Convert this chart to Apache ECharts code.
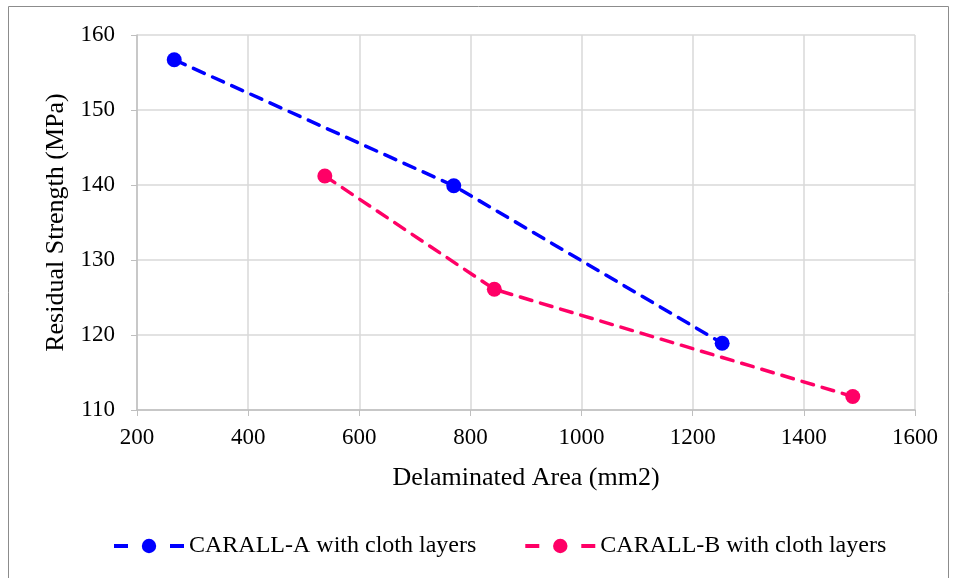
<!DOCTYPE html>
<html>
<head>
<meta charset="utf-8">
<script src="https://cdn.jsdelivr.net/npm/echarts@6/dist/echarts.min.js"></script>
<style>
  html, body { margin: 0; padding: 0; background: #fff; }
  #chart { width: 959px; height: 578px; }
</style>
</head>
<body>
<div id="chart"></div>
<script>
// Delaminated area (mm2) vs residual strength (MPa)
const seriesNames = ['CARALL-A with cloth layers', 'CARALL-B with cloth layers'];
const areaA = [267, 770, 1253];
const strengthA = [156.7, 139.9, 118.9];
const areaB = [538, 843, 1488];
const strengthB = [141.2, 126.1, 111.8];
const xTicks = [200, 400, 600, 800, 1000, 1200, 1400, 1600];
const yTicks = [110, 120, 130, 140, 150, 160];

const font = '"Liberation Serif", "Times New Roman", serif';
const colors = ['#0000FF', '#FF0066'];

function pairs(xs, ys) { return xs.map((x, i) => [x, ys[i]]); }

function makeSeries(name, data, color) {
  return {
    name: name,
    type: 'line',
    data: data,
    symbol: 'circle',
    symbolSize: 15,
    itemStyle: { color: color },
    lineStyle: { color: color, width: 3.5, type: [12, 9], cap: 'round' },
    emphasis: { disabled: true },
    animation: false
  };
}

const chart = echarts.init(document.getElementById('chart'), null, { renderer: 'canvas' });
chart.setOption({
  backgroundColor: '#fff',
  animation: false,
  graphic: [{
    type: 'rect',
    shape: { x: 8.5, y: 6.5, width: 940, height: 600 },
    style: { fill: 'none', stroke: '#8c8c8c', lineWidth: 1 },
    silent: true
  }],
  grid: { left: 137, right: 44, top: 35, bottom: 168, containLabel: false },
  xAxis: {
    type: 'value',
    min: xTicks[0], max: xTicks[xTicks.length - 1], interval: 200,
    name: 'Delaminated Area (mm2)',
    nameLocation: 'middle', nameGap: 55,
    nameTextStyle: { fontFamily: font, fontSize: 26, color: '#000' },
    axisLine: { show: true, lineStyle: { color: '#bfbfbf', width: 1.5 } },
    axisTick: { show: true, length: 6, lineStyle: { color: '#bfbfbf' } },
    axisLabel: { fontFamily: font, fontSize: 23, color: '#000', margin: 16, formatter: v => String(v) },
    splitLine: { show: true, lineStyle: { color: '#d9d9d9', width: 1.5 } }
  },
  yAxis: {
    type: 'value',
    min: yTicks[0], max: yTicks[yTicks.length - 1], interval: 10,
    name: 'Residual Strength (MPa)',
    nameLocation: 'middle', nameGap: 62, nameRotate: 90,
    nameTextStyle: { fontFamily: font, fontSize: 26, color: '#000' },
    axisLine: { show: true, lineStyle: { color: '#bfbfbf', width: 1.5 } },
    axisTick: { show: true, length: 6, lineStyle: { color: '#bfbfbf' } },
    axisLabel: { fontFamily: font, fontSize: 23, color: '#000', margin: 22, formatter: v => String(v) },
    splitLine: { show: true, lineStyle: { color: '#d9d9d9', width: 1.5 } }
  },
  legend: {
    top: 529,
    left: 107,
    itemWidth: 70,
    itemHeight: 18,
    itemGap: 47,
    lineStyle: { type: [14, 42], width: 4, cap: 'butt' },
    textStyle: { fontFamily: font, fontSize: 24, color: '#000', padding: [0, 0, 0, 0] },
    data: seriesNames
  },
  series: [
    makeSeries(seriesNames[0], pairs(areaA, strengthA), colors[0]),
    makeSeries(seriesNames[1], pairs(areaB, strengthB), colors[1])
  ]
});
</script>
</body>
</html>
